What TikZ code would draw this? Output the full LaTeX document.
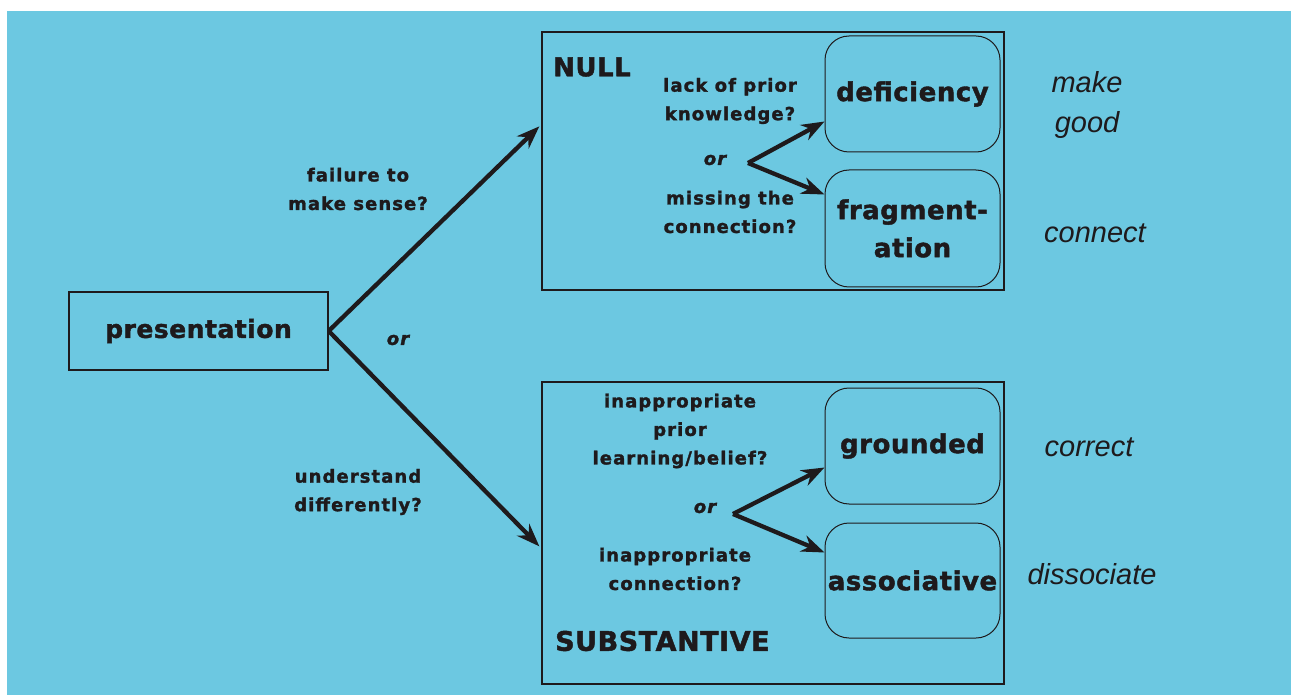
\documentclass[tikz,border=0pt]{standalone}
\usepackage{fontspec}
\setmainfont{DejaVu Sans}
\newfontfamily\heavyfont[LetterSpace=6,FakeBold=1.6]{DejaVu Sans Bold}
\newfontfamily\bigfont[LetterSpace=2,FakeBold=1.6]{DejaVu Sans Bold}
\newfontfamily\italfont{Liberation Sans Italic}
\usetikzlibrary{arrows.meta,calc}
\definecolor{bg}{RGB}{108,200,225}
\definecolor{ink}{RGB}{30,26,28}
\begin{document}
\begin{tikzpicture}[x=1pt,y=-1pt,
  frame/.style={draw=ink, line width=1.3pt, inner sep=0pt},
  rbox/.style={draw=ink, line width=1pt, rounded corners=24pt, inner sep=0pt,
    minimum width=175pt, align=center, text=ink,
    font=\bigfont\fontsize{26}{38}\selectfont},
  lbl/.style={font=\heavyfont\fontsize{18}{28.5}\selectfont, align=center, text=ink, inner sep=0pt},
  orlbl/.style={font=\heavyfont\fontsize{18}{20}\selectfont\itshape, text=ink, inner sep=0pt},
  act/.style={font=\italfont\fontsize{29}{40}\selectfont, align=center, text=ink, inner sep=0pt},
  arr/.style={draw=ink, line width=4.3pt, -{Stealth[length=23pt,width=17pt]}},
  titlelbl/.style={font=\bigfont\fontsize{26}{30}\selectfont, text=ink, inner sep=0pt, anchor=west}
]
\useasboundingbox (0,0) rectangle (1291,695);
\fill[white] (0,0) rectangle (1291,695);
\fill[bg] (7,11) rectangle (1291,695);

% left
\node[frame, minimum width=259pt, minimum height=78pt, text=ink,
  font=\bigfont\fontsize{25}{30}\selectfont] (pres) at (198.5,331) {presentation};
\node[lbl] (fail) at (358,189) {failure to\\make sense?};
\node[lbl] (und) at (358,492) {understand\\differently?};
\node[orlbl] (or0) at (398,340) {or};

% null
\node[frame, minimum width=462pt, minimum height=258pt] (nullbox) at (773,161) {};
\node[titlelbl] (nulltitle) at (553,67) {NULL};
\node[rbox, minimum height=116pt] (def) at (912.5,94) {deficiency};
\node[rbox, minimum height=117pt] (frag) at (912.5,228.5) {fragment-\\ation};
\node[lbl] (lack) at (730,101) {lack of prior\\knowledge?};
\node[orlbl] (or1) at (715,160) {or};
\node[lbl] (miss) at (730,212) {missing the\\connection?};

% substantive
\node[frame, minimum width=462pt, minimum height=302pt] (subbox) at (773,533) {};
\node[titlelbl, font=\bigfont\fontsize{27}{30}\selectfont] (subtitle) at (555,641) {SUBSTANTIVE};
\node[rbox, minimum height=116pt] (grd) at (912.5,446) {grounded};
\node[rbox, minimum height=115pt] (ass) at (912.5,580.5) {associative};
\node[lbl] (inap) at (680,431) {inappropriate\\prior\\learning/belief?};
\node[orlbl] (or2) at (705,508) {or};
\node[lbl] (inapc) at (675,569) {inappropriate\\connection?};

% actions
\node[act] (mg) at (1087,105) {make\\good};
\node[act] (con) at (1095,233) {connect};
\node[act] (cor) at (1089,447) {correct};
\node[act] (dis) at (1092,574) {dissociate};

% connectors
\coordinate (split) at (pres.east);
\coordinate (nullin) at ($(nullbox.north west)+(-2,95)$);
\coordinate (subin) at ($(subbox.north west)+(-2,165)$);
\draw[arr] (split) -- (nullin);
\draw[arr] (split) -- (subin);

\coordinate (b1) at (748,163);
\coordinate (defin) at ($(def.north west)+(0,86)$);
\coordinate (fragin) at ($(frag.north west)+(0,25)$);
\draw[arr] (b1) -- (defin);
\draw[arr] (b1) -- (fragin);

\coordinate (b2) at (733,514);
\coordinate (grdin) at ($(grd.north west)+(0,80)$);
\coordinate (assin) at ($(ass.north west)+(0,30)$);
\draw[arr] (b2) -- (grdin);
\draw[arr] (b2) -- (assin);
\end{tikzpicture}
\end{document}
